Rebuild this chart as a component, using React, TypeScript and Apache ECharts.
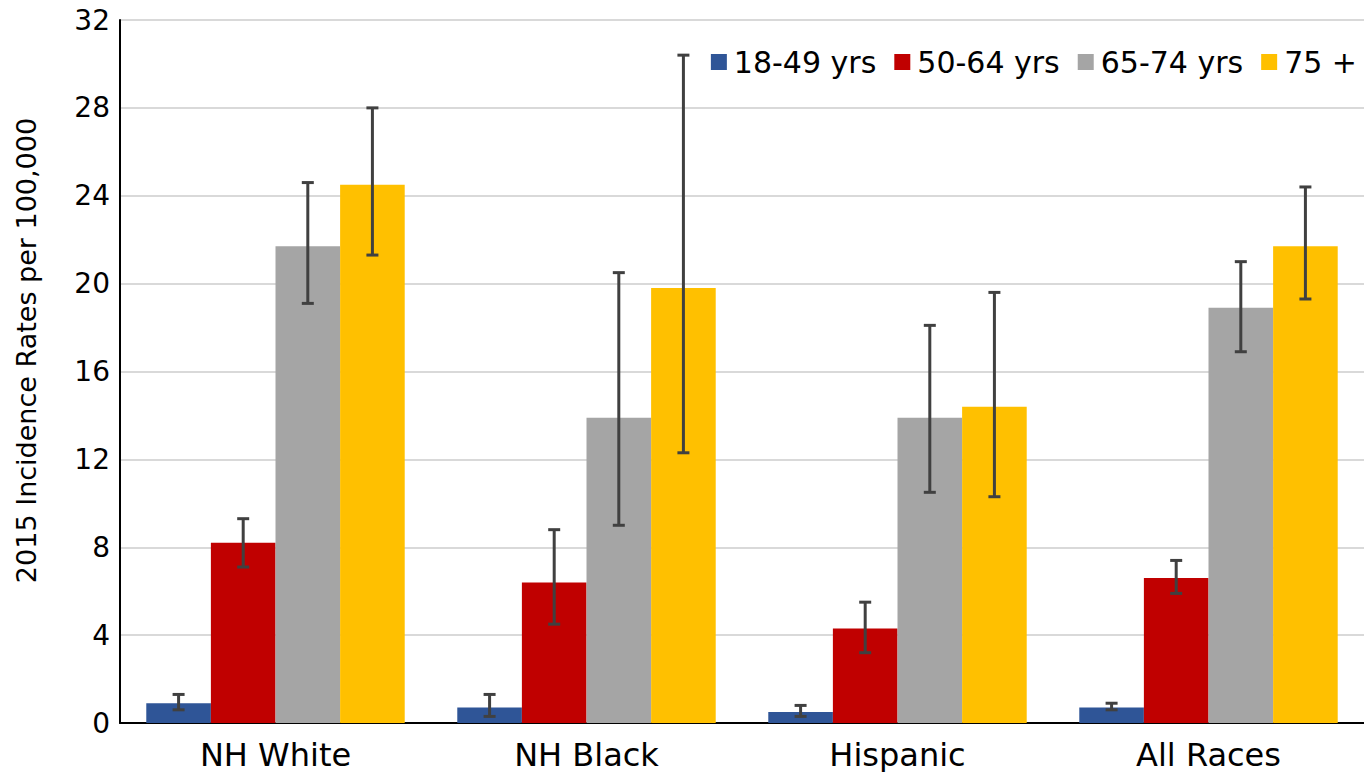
import React, { useEffect, useRef } from "react";
import * as echarts from "echarts";

// Race / ethnicity groups on the x axis
const categories = ["NH White", "NH Black", "Hispanic", "All Races"];
const ageGroups = ["18-49 yrs", "50-64 yrs", "65-74 yrs", "75 +"];
const colors = ["#2F5597", "#C00000", "#A5A5A5", "#FFC000"];

// Incidence rates per 100,000 with lower / upper confidence limits
const rates18to49 = [0.9, 0.7, 0.5, 0.7];
const low18to49 = [0.6, 0.3, 0.3, 0.6];
const high18to49 = [1.3, 1.3, 0.8, 0.9];

const rates50to64 = [8.2, 6.4, 4.3, 6.6];
const low50to64 = [7.1, 4.5, 3.2, 5.9];
const high50to64 = [9.3, 8.8, 5.5, 7.4];

const rates65to74 = [21.7, 13.9, 13.9, 18.9];
const low65to74 = [19.1, 9.0, 10.5, 16.9];
const high65to74 = [24.6, 20.5, 18.1, 21.0];

const rates75plus = [24.5, 19.8, 14.4, 21.7];
const low75plus = [21.3, 12.3, 10.3, 19.3];
const high75plus = [28.0, 30.4, 19.6, 24.4];

const yTicks = [0, 4, 8, 12, 16, 20, 24, 28, 32];

const rates = [rates18to49, rates50to64, rates65to74, rates75plus];
const lows = [low18to49, low50to64, low65to74, low75plus];
const highs = [high18to49, high50to64, high65to74, high75plus];

const CATEGORY_GAP = 0.169;
const FONT = "'DejaVu Sans', Verdana, sans-serif";

export default function App() {
  const ref = useRef<HTMLDivElement>(null);

  useEffect(() => {
    if (!ref.current) return;
    const chart = echarts.init(ref.current, null, { renderer: "svg" });

    const barSeries = ageGroups.map((name, i) => ({
      name,
      type: "bar" as const,
      data: rates[i],
      barGap: "0%",
      barCategoryGap: `${CATEGORY_GAP * 100}%`,
      itemStyle: { color: colors[i] },
      z: 2,
    }));

    // Error bars: one custom series per age group, offset to sit on its bar
    const errorSeries = ageGroups.map((name, i) => ({
      name: name + " CI",
      type: "custom" as const,
      z: 5,
      clip: false,
      data: categories.map((_, c) => [c, lows[i][c], highs[i][c]]),
      renderItem: (params: any, api: any) => {
        const c = api.value(0);
        const lo = api.coord([c, api.value(1)]);
        const hi = api.coord([c, api.value(2)]);
        const band = api.size([1, 0])[0];
        const barW = (band * (1 - CATEGORY_GAP)) / ageGroups.length;
        const x = lo[0] + (i - (ageGroups.length - 1) / 2) * barW;
        const cap = 6;
        const style = { stroke: "#404040", lineWidth: 3, fill: "none" };
        return {
          type: "group",
          children: [
            { type: "line", shape: { x1: x, y1: lo[1], x2: x, y2: hi[1] }, style },
            { type: "line", shape: { x1: x - cap, y1: hi[1], x2: x + cap, y2: hi[1] }, style },
            { type: "line", shape: { x1: x - cap, y1: lo[1], x2: x + cap, y2: lo[1] }, style },
          ],
        };
      },
    }));

    chart.setOption({
      animation: false,
      textStyle: { fontFamily: FONT },
      grid: { left: 120, right: -8, top: 20, bottom: 49, containLabel: false },
      legend: {
        data: ageGroups,
        right: 2,
        top: 42,
        itemWidth: 16,
        itemHeight: 16,
        itemGap: 18,
        icon: "rect",
        textStyle: { fontSize: 30, color: "#000", fontFamily: FONT, padding: [0, 0, 0, 2] },
      },
      xAxis: {
        type: "category",
        data: categories,
        axisTick: { show: false },
        axisLine: { lineStyle: { color: "#000", width: 2 } },
        axisLabel: { fontSize: 32, color: "#000", margin: 16, fontFamily: FONT },
      },
      yAxis: {
        type: "value",
        min: yTicks[0],
        max: yTicks[yTicks.length - 1],
        interval: yTicks[1] - yTicks[0],
        name: "2015 Incidence Rates per 100,000",
        nameLocation: "middle",
        nameGap: 80,
        nameTextStyle: { fontSize: 27, color: "#000", fontFamily: FONT, padding: [0, 0, 0, 42] },
        axisLine: { show: true, lineStyle: { color: "#000", width: 2 } },
        axisTick: { show: false },
        axisLabel: { fontSize: 28, color: "#000", margin: 10, fontFamily: FONT },
        splitLine: { lineStyle: { color: "#d9d9d9", width: 2 } },
      },
      series: [...barSeries, ...errorSeries],
    });

    return () => chart.dispose();
  }, []);

  return (
    <div
      ref={ref}
      style={{ position: "fixed", left: 0, top: 0, width: 1364, height: 772, background: "#fff" }}
    />
  );
}
